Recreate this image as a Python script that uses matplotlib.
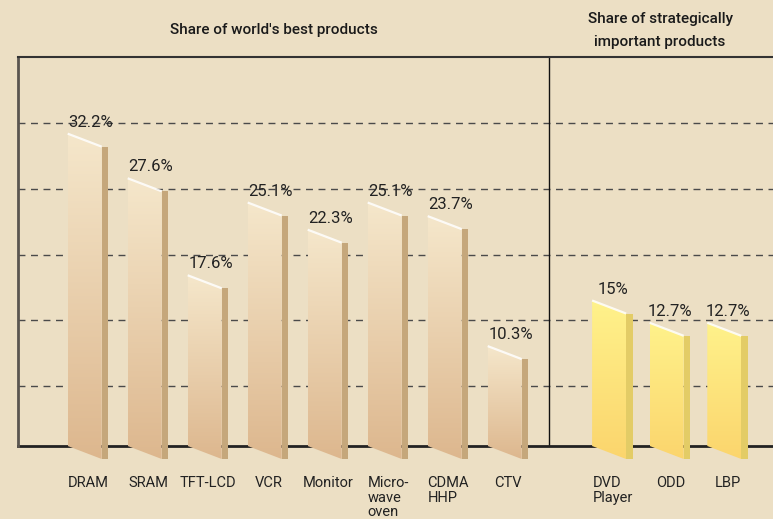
import matplotlib.pyplot as plt
import numpy as np
from matplotlib.patches import Polygon
from matplotlib.colors import LinearSegmentedColormap

plt.rcParams['font.family'] = ['Roboto', 'DejaVu Sans']

# data
best_labels = ['DRAM', 'SRAM', 'TFT-LCD', 'VCR', 'Monitor', 'Micro-\nwave\noven', 'CDMA\nHHP', 'CTV']
best_share = [32.2, 27.6, 17.6, 25.1, 22.3, 25.1, 23.7, 10.3]
best_text = ['32.2%', '27.6%', '17.6%', '25.1%', '22.3%', '25.1%', '23.7%', '10.3%']

strat_labels = ['DVD\nPlayer', 'ODD', 'LBP']
strat_share = [15, 12.7, 12.7]
strat_text = ['15%', '12.7%', '12.7%']

BG = '#ecdfc4'
W = 773
H = 519
PX_PER_UNIT = 9.7       # pixels per percent
SLOPE = 13 / PX_PER_UNIT
BAR_W = 34 / 60
SIDE_W = 6.6 / 60

fig = plt.figure(figsize=(W / 100, H / 100), dpi=100, facecolor=BG)
ax = fig.add_axes([18 / W, (H - 446) / H, (W - 18) / W, (446 - 57) / H])
ax.set_facecolor(BG)

pos_best = np.arange(len(best_share))
pos_strat = 8.74 + 0.96 * np.arange(len(strat_share))

beige = LinearSegmentedColormap.from_list('beige', ['#f5e7cb', '#ddb78e'])
yellow = LinearSegmentedColormap.from_list('yellow', ['#fff28b', '#fbd56d'])
grad = np.linspace(0, 1, 256).reshape(-1, 1)


def draw_bar(c, v, cmap, side_color):
    x0, x1 = c - BAR_W / 2, c + BAR_W / 2
    front = Polygon([(x0, 0), (x0, v), (x1, v - SLOPE), (x1, -SLOPE)],
                    closed=True, facecolor='none', edgecolor='none', clip_on=False)
    ax.add_patch(front)
    im = ax.imshow(grad, cmap=cmap, aspect='auto', extent=[x0, x1, -SLOPE, v],
                   interpolation='bilinear', zorder=3)
    im.set_clip_box(fig.bbox)
    im.set_clip_path(front)
    side = Polygon([(x1, v - SLOPE), (x1 + SIDE_W, v - SLOPE), (x1 + SIDE_W, -SLOPE), (x1, -SLOPE)],
                   closed=True, facecolor=side_color, edgecolor='none', clip_on=False, zorder=3)
    ax.add_patch(side)
    ax.plot([x0, x1], [v, v - SLOPE], color='white', lw=1.6, alpha=0.85,
            solid_capstyle='butt', zorder=4, clip_on=False)


for c, v, t, lab in zip(pos_best, best_share, best_text, best_labels):
    draw_bar(c, v, beige, '#c5a77b')
    ax.text(c + 0.1, v + 0.4, t, ha='center', va='bottom', fontsize=12,
            color='#222222', zorder=5)
    ax.text(c + 0.06, -3.1, lab, ha='center', va='top', fontsize=10.5,
            multialignment='left', linespacing=1.05, color='#222222', clip_on=False)

for c, v, t, lab in zip(pos_strat, strat_share, strat_text, strat_labels):
    draw_bar(c, v, yellow, '#e3cc66')
    ax.text(c + 0.06, v + 0.4, t, ha='center', va='bottom', fontsize=12,
            color='#222222', zorder=5)
    ax.text(c + 0.06, -3.1, lab, ha='center', va='top', fontsize=10.5,
            multialignment='left', linespacing=1.05, color='#222222', clip_on=False)

# dashed guide lines
for gy in [6.2, 13.0, 19.7, 26.5, 33.3]:
    ax.axhline(gy, color='#4a4a4a', lw=1.0, ls=(0, (5, 4)), zorder=2)

ax.axvline(7.74, color='#111111', lw=1.0, zorder=2)

ax.set_xlim((18 - 84.7) / 60, (W - 84.7) / 60)
ax.set_ylim(0, (446 - 57) / PX_PER_UNIT)
ax.set_xticks([])
ax.set_yticks([])
ax.spines['right'].set_visible(False)
ax.spines['left'].set_color('#5a5550')
ax.spines['left'].set_linewidth(2.0)
ax.spines['top'].set_color('#333333')
ax.spines['top'].set_linewidth(1.5)
ax.spines['bottom'].set_color('#222222')
ax.spines['bottom'].set_linewidth(2.0)
ax.spines['bottom'].set_zorder(2)

fig.text(274 / W, 1 - 30 / H, "Share of world's best products", ha='center', va='center',
         fontsize=11, fontweight='medium', color='#1a1a1a')
fig.text(660 / W, 1 - 30.5 / H, 'Share of strategically\nimportant products', ha='center',
         va='center', fontsize=11, fontweight='medium', color='#1a1a1a', linespacing=1.75)

fig.savefig('out.png', dpi=100, facecolor=BG)
